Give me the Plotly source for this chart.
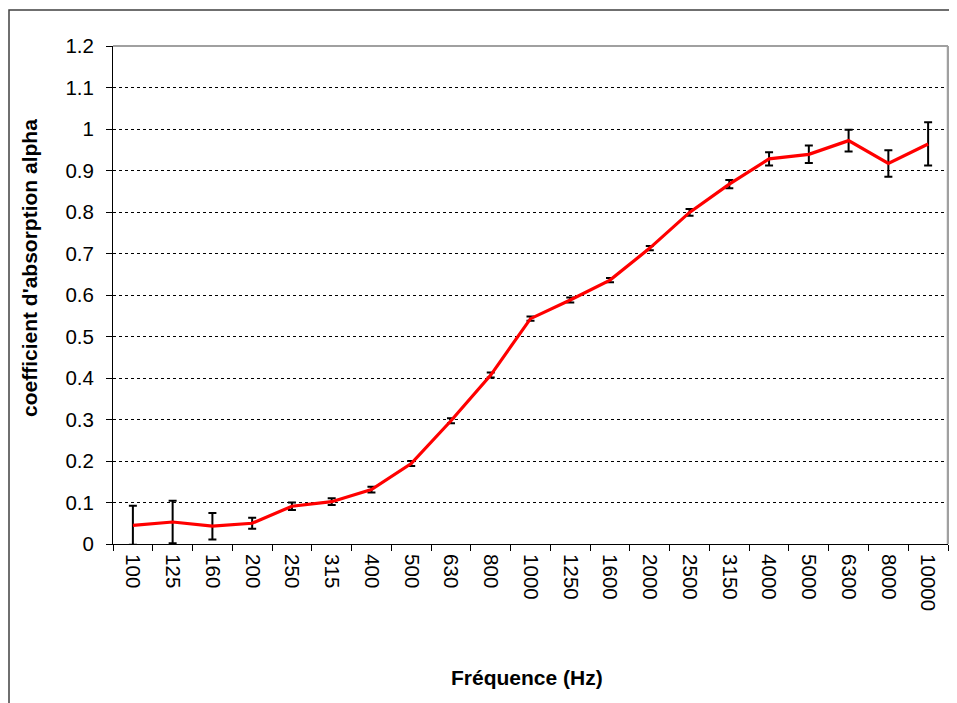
import plotly.graph_objects as go

frequencies = ["100", "125", "160", "200", "250", "315", "400", "500", "630", "800",
               "1000", "1250", "1600", "2000", "2500", "3150", "4000", "5000", "6300",
               "8000", "10000"]
alpha = [0.045, 0.053, 0.043, 0.050, 0.091, 0.102, 0.131, 0.194, 0.297, 0.407,
         0.543, 0.588, 0.636, 0.713, 0.799, 0.867, 0.928, 0.939, 0.972,
         0.917, 0.964]
alpha_err = [0.047, 0.051, 0.032, 0.013, 0.009, 0.008, 0.007, 0.006, 0.006, 0.006,
             0.005, 0.006, 0.005, 0.005, 0.008, 0.010, 0.016, 0.021, 0.026,
             0.032, 0.052]
y_ticks = [0, 0.1, 0.2, 0.3, 0.4, 0.5, 0.6, 0.7, 0.8, 0.9, 1, 1.1, 1.2]
y_tick_labels = ["0", "0.1", "0.2", "0.3", "0.4", "0.5", "0.6", "0.7", "0.8", "0.9", "1", "1.1", "1.2"]

FONT = "Liberation Sans, Arial, sans-serif"

fig = go.Figure()
fig.add_trace(go.Scatter(
    x=frequencies, y=alpha, mode="lines",
    line=dict(color="#ff0000", width=3.2),
    error_y=dict(type="data", array=alpha_err, visible=True,
                 color="black", thickness=2, width=4),
    showlegend=False,
))

# page body has an 8px margin: figure origin sits at page (8, 8)
OFF = 8
W, H = 949, 695
L, R, T, B = 105, 9, 38, 159
pw, ph = W - L - R, H - T - B

def px_x(p):  # page pixel -> paper
    return (p - OFF - L) / pw

def px_y(p):
    return 1 - (p - OFF - T) / ph

fig.update_layout(
    width=W, height=H,
    margin=dict(l=L, r=R, t=T, b=B),
    paper_bgcolor="white", plot_bgcolor="white",
    font=dict(family=FONT, size=20, color="black"),
    xaxis=dict(
        type="category", range=[-0.5, len(frequencies) - 0.5],
        tickangle=90, ticks="outside", ticklen=6, tickcolor="black",
        tickson="boundaries", ticklabelstandoff=5,
        showline=True, linecolor="black", linewidth=1,
        showgrid=False, zeroline=False,
        tickfont=dict(size=20.5),
    ),
    yaxis=dict(
        range=[0, 1.2], tickvals=y_ticks, ticktext=y_tick_labels,
        ticks="outside", ticklen=6, tickcolor="black",
        ticklabelstandoff=8,
        showline=True, linecolor="black", linewidth=1,
        showgrid=True, gridcolor="black", gridwidth=1, griddash="dot",
        zeroline=False,
        tickfont=dict(size=20.5),
    ),
    shapes=[
        dict(type="line", xref="paper", yref="paper", x0=0, x1=1, y0=1, y1=1,
             line=dict(color="#a0a0a0", width=2)),
        dict(type="line", xref="paper", yref="paper", x0=1, x1=1, y0=0, y1=1,
             line=dict(color="#a0a0a0", width=2.5)),
        dict(type="rect", xref="paper", yref="paper",
             x0=px_x(9), x1=px_x(1000), y0=px_y(800), y1=px_y(10),
             line=dict(color="#404040", width=1.5), layer="below"),
    ],
    annotations=[
        dict(text="<b>coefficient d'absorption alpha</b>", xref="paper", yref="paper",
             x=px_x(29), y=px_y(268), textangle=-90, showarrow=False,
             font=dict(size=21, family=FONT), xanchor="center", yanchor="middle"),
        dict(text="<b>Fréquence (Hz)</b>", xref="paper", yref="paper",
             x=px_x(527), y=px_y(677), showarrow=False,
             font=dict(size=21, family=FONT), xanchor="center", yanchor="middle"),
    ],
)

fig.write_html("out.html")
